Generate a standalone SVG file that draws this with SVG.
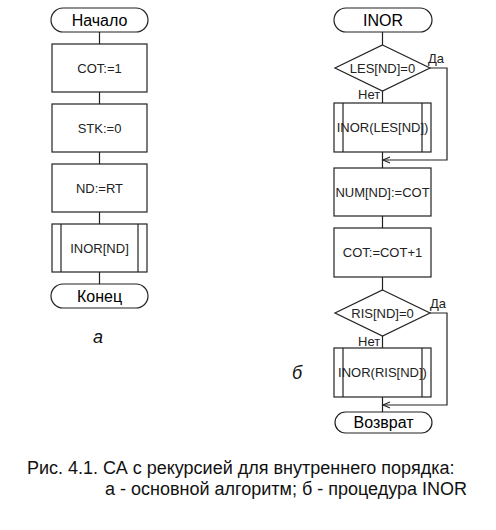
<svg xmlns="http://www.w3.org/2000/svg" width="496" height="530" viewBox="0 0 496 530">
<defs>
<style>
.shape{fill:#fff;stroke:#222;stroke-width:1.2}
.ln{fill:none;stroke:#222;stroke-width:1.2}
.t{font-family:"Liberation Sans",Arial,sans-serif;font-size:13px;fill:#222;text-anchor:middle}
.term{font-family:"Liberation Sans",Arial,sans-serif;font-size:16px;fill:#000;text-anchor:middle}
.lbl{font-family:"Liberation Sans",Arial,sans-serif;font-size:13px;fill:#222}
.it{font-family:"Liberation Sans",Arial,sans-serif;font-size:18px;font-style:italic;fill:#111;text-anchor:middle}
.cap{font-family:"Liberation Sans",Arial,sans-serif;font-size:18px;fill:#111}
</style>
<marker id="arr" markerWidth="10" markerHeight="10" refX="8" refY="4" orient="auto" markerUnits="userSpaceOnUse">
<path d="M1,1 L8,4 L1,7" fill="none" stroke="#222" stroke-width="1.1"/>
</marker>
</defs>
<rect width="496" height="530" fill="#fff"/>

<g id="connectors">
<line class="ln" x1="99.5" y1="32" x2="99.5" y2="44"/>
<line class="ln" x1="99.5" y1="92" x2="99.5" y2="104"/>
<line class="ln" x1="99.5" y1="152" x2="99.5" y2="164"/>
<line class="ln" x1="99.5" y1="212" x2="99.5" y2="224"/>
<line class="ln" x1="99.5" y1="272" x2="99.5" y2="284"/>

<line class="ln" x1="382.5" y1="32" x2="382.5" y2="45"/>
<line class="ln" x1="382.5" y1="91" x2="382.5" y2="103"/>
<line class="ln" x1="382.5" y1="152" x2="382.5" y2="168"/>
<polyline class="ln" points="430,68 447,68 447,160 383,160" marker-end="url(#arr)"/>
<line class="ln" x1="382.5" y1="216" x2="382.5" y2="228"/>
<line class="ln" x1="382.5" y1="277" x2="382.5" y2="290"/>
<line class="ln" x1="382.5" y1="336" x2="382.5" y2="348"/>
<line class="ln" x1="382.5" y1="397" x2="382.5" y2="412"/>
<polyline class="ln" points="430,313 447,313 447,405 383,405" marker-end="url(#arr)"/>
</g>

<g id="start">
<rect class="shape" x="51" y="8" width="97" height="24" rx="12"/>
<text class="term" x="99.5" y="26">Начало</text>
</g>
<g id="cot1">
<rect class="shape" x="52" y="44" width="95" height="48"/>
<text class="t" x="99.5" y="73">COT:=1</text>
</g>
<g id="stk0">
<rect class="shape" x="52" y="104" width="95" height="48"/>
<text class="t" x="99.5" y="133">STK:=0</text>
</g>
<g id="ndrt">
<rect class="shape" x="52" y="164" width="95" height="48"/>
<text class="t" x="99.5" y="193">ND:=RT</text>
</g>
<g id="inornd">
<rect class="shape" x="52" y="224" width="95" height="48"/>
<line class="ln" x1="61" y1="224" x2="61" y2="272"/>
<line class="ln" x1="138" y1="224" x2="138" y2="272"/>
<text class="t" x="99.5" y="253">INOR[ND]</text>
</g>
<g id="end">
<rect class="shape" x="51" y="284" width="97" height="24" rx="12"/>
<text class="term" x="99.5" y="302">Конец</text>
</g>
<text class="it" x="98" y="343">а</text>

<g id="inor">
<rect class="shape" x="334" y="8" width="98" height="24" rx="12"/>
<text class="term" x="383" y="26">INOR</text>
</g>
<g id="les">
<polygon class="shape" points="382.5,45 430,68 382.5,91 335,68"/>
<text class="t" x="382.5" y="73">LES[ND]=0</text>
<text class="lbl" x="428" y="63">Да</text>
<text class="lbl" x="358" y="99">Нет</text>
</g>
<g id="inorles">
<rect class="shape" x="334" y="103" width="97" height="49"/>
<line class="ln" x1="343" y1="103" x2="343" y2="152"/>
<line class="ln" x1="422" y1="103" x2="422" y2="152"/>
<text class="t" x="382.5" y="132">INOR(LES[ND])</text>
</g>
<g id="num">
<rect class="shape" x="334" y="168" width="97" height="48"/>
<text class="t" x="382.5" y="197">NUM[ND]:=COT</text>
</g>
<g id="cotinc">
<rect class="shape" x="334" y="228" width="97" height="49"/>
<text class="t" x="382.5" y="257">COT:=COT+1</text>
</g>
<g id="ris">
<polygon class="shape" points="382.5,290 430,313 382.5,336 335,313"/>
<text class="t" x="382.5" y="318">RIS[ND]=0</text>
<text class="lbl" x="430" y="308">Да</text>
<text class="lbl" x="358" y="346">Нет</text>
</g>
<g id="inorris">
<rect class="shape" x="334" y="348" width="97" height="49"/>
<line class="ln" x1="343" y1="348" x2="343" y2="397"/>
<line class="ln" x1="422" y1="348" x2="422" y2="397"/>
<text class="t" x="382.5" y="377">INOR(RIS[ND])</text>
</g>
<g id="ret">
<rect class="shape" x="335" y="412" width="97" height="21" rx="10.5"/>
<text class="term" x="383.5" y="428">Возврат</text>
</g>
<text class="it" x="297" y="379">б</text>

<text class="cap" x="27" y="474">Рис. 4.1. СА с рекурсией для внутреннего порядка:</text>
<text class="cap" x="105" y="495">а - основной алгоритм; б - процедура INOR</text>
</svg>
